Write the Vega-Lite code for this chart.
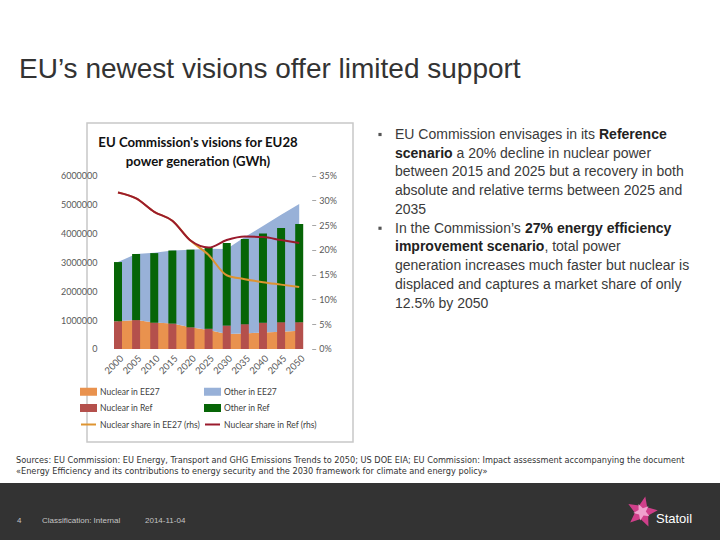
{
  "$schema": "https://vega.github.io/schema/vega-lite/v6.json",
  "padding": 0,
  "background": "white",
  "config": {"view": {"stroke": null}, "font": "Liberation Sans"},
  "datasets": {
    "ee27": [
      {"year": 2000, "series": "Nuclear in EE27", "value": 960000}, {"year": 2000, "series": "Other in EE27", "value": 2050000},
      {"year": 2005, "series": "Nuclear in EE27", "value": 1000000}, {"year": 2005, "series": "Other in EE27", "value": 2290000},
      {"year": 2010, "series": "Nuclear in EE27", "value": 920000}, {"year": 2010, "series": "Other in EE27", "value": 2410000},
      {"year": 2015, "series": "Nuclear in EE27", "value": 880000}, {"year": 2015, "series": "Other in EE27", "value": 2530000},
      {"year": 2020, "series": "Nuclear in EE27", "value": 750000}, {"year": 2020, "series": "Other in EE27", "value": 2690000},
      {"year": 2025, "series": "Nuclear in EE27", "value": 660000}, {"year": 2025, "series": "Other in EE27", "value": 2810000},
      {"year": 2030, "series": "Nuclear in EE27", "value": 520000}, {"year": 2030, "series": "Other in EE27", "value": 2940000},
      {"year": 2035, "series": "Nuclear in EE27", "value": 540000}, {"year": 2035, "series": "Other in EE27", "value": 3340000},
      {"year": 2040, "series": "Nuclear in EE27", "value": 570000}, {"year": 2040, "series": "Other in EE27", "value": 3690000},
      {"year": 2045, "series": "Nuclear in EE27", "value": 600000}, {"year": 2045, "series": "Other in EE27", "value": 4050000},
      {"year": 2050, "series": "Nuclear in EE27", "value": 630000}, {"year": 2050, "series": "Other in EE27", "value": 4390000}
    ],
    "ref": [
      {"year": 2000, "series": "Nuclear in Ref", "value": 960000}, {"year": 2000, "series": "Other in Ref", "value": 2050000},
      {"year": 2005, "series": "Nuclear in Ref", "value": 1000000}, {"year": 2005, "series": "Other in Ref", "value": 2290000},
      {"year": 2010, "series": "Nuclear in Ref", "value": 910000}, {"year": 2010, "series": "Other in Ref", "value": 2410000},
      {"year": 2015, "series": "Nuclear in Ref", "value": 880000}, {"year": 2015, "series": "Other in Ref", "value": 2530000},
      {"year": 2020, "series": "Nuclear in Ref", "value": 750000}, {"year": 2020, "series": "Other in Ref", "value": 2690000},
      {"year": 2025, "series": "Nuclear in Ref", "value": 700000}, {"year": 2025, "series": "Other in Ref", "value": 2830000},
      {"year": 2030, "series": "Nuclear in Ref", "value": 810000}, {"year": 2030, "series": "Other in Ref", "value": 2860000},
      {"year": 2035, "series": "Nuclear in Ref", "value": 860000}, {"year": 2035, "series": "Other in Ref", "value": 2950000},
      {"year": 2040, "series": "Nuclear in Ref", "value": 910000}, {"year": 2040, "series": "Other in Ref", "value": 3090000},
      {"year": 2045, "series": "Nuclear in Ref", "value": 930000}, {"year": 2045, "series": "Other in Ref", "value": 3260000},
      {"year": 2050, "series": "Nuclear in Ref", "value": 930000}, {"year": 2050, "series": "Other in Ref", "value": 3400000}
    ],
    "share": [
      {"year": 2000, "series": "Nuclear share in EE27 (rhs)", "share": 0.316}, {"year": 2005, "series": "Nuclear share in EE27 (rhs)", "share": 0.304},
      {"year": 2010, "series": "Nuclear share in EE27 (rhs)", "share": 0.277}, {"year": 2015, "series": "Nuclear share in EE27 (rhs)", "share": 0.259},
      {"year": 2020, "series": "Nuclear share in EE27 (rhs)", "share": 0.219}, {"year": 2025, "series": "Nuclear share in EE27 (rhs)", "share": 0.19},
      {"year": 2030, "series": "Nuclear share in EE27 (rhs)", "share": 0.149}, {"year": 2035, "series": "Nuclear share in EE27 (rhs)", "share": 0.141},
      {"year": 2040, "series": "Nuclear share in EE27 (rhs)", "share": 0.135}, {"year": 2045, "series": "Nuclear share in EE27 (rhs)", "share": 0.13},
      {"year": 2050, "series": "Nuclear share in EE27 (rhs)", "share": 0.125},
      {"year": 2000, "series": "Nuclear share in Ref (rhs)", "share": 0.316}, {"year": 2005, "series": "Nuclear share in Ref (rhs)", "share": 0.304},
      {"year": 2010, "series": "Nuclear share in Ref (rhs)", "share": 0.277}, {"year": 2015, "series": "Nuclear share in Ref (rhs)", "share": 0.259},
      {"year": 2020, "series": "Nuclear share in Ref (rhs)", "share": 0.219}, {"year": 2025, "series": "Nuclear share in Ref (rhs)", "share": 0.205},
      {"year": 2030, "series": "Nuclear share in Ref (rhs)", "share": 0.22}, {"year": 2035, "series": "Nuclear share in Ref (rhs)", "share": 0.227},
      {"year": 2040, "series": "Nuclear share in Ref (rhs)", "share": 0.226}, {"year": 2045, "series": "Nuclear share in Ref (rhs)", "share": 0.22},
      {"year": 2050, "series": "Nuclear share in Ref (rhs)", "share": 0.214}
    ],
    "bullets": [
      {"line": 1, "seg": "n0", "text": "EU Commission envisages in its"},
      {"line": 1, "seg": "bRef", "text": "Reference"},
      {"line": 2, "seg": "b0", "text": "scenario"},
      {"line": 2, "seg": "nSc", "text": "a 20% decline in nuclear power"},
      {"line": 3, "seg": "n0", "text": "between 2015 and 2025 but a recovery in both"},
      {"line": 4, "seg": "n0", "text": "absolute and relative terms between 2025 and"},
      {"line": 5, "seg": "n0", "text": "2035"},
      {"line": 6, "seg": "n0", "text": "In the Commission’s"},
      {"line": 6, "seg": "b27", "text": "27% energy efficiency"},
      {"line": 7, "seg": "b0", "text": "improvement scenario"},
      {"line": 7, "seg": "nImp", "text": ", total power"},
      {"line": 8, "seg": "n0", "text": "generation increases much faster but nuclear is"},
      {"line": 9, "seg": "n0", "text": "displaced and captures a market share of only"},
      {"line": 10, "seg": "n0", "text": "12.5% by 2050"}
    ],
    "sources": [
      {"line": 1, "text": "Sources: EU Commission: EU Energy, Transport and GHG Emissions Trends to 2050; US DOE EIA; EU Commission: Impact assessment accompanying the document"},
      {"line": 2, "text": "«Energy Efficiency and its contributions to energy security and the 2030 framework for climate and energy policy»"}
    ]
  },
  "spacing": 0,
  "bounds": "flush",
  "columns": 3,
  "concat": [
    {
      "width": 87, "height": 123,
      "view": {"fill": "white", "stroke": null},
      "data": {"values": []},
      "mark": "point",
      "title": {"text": "EU’s newest visions offer limited support", "anchor": "start", "frame": "group", "offset": -106, "dx": 19, "baseline": "alphabetic", "font": "Liberation Sans", "fontSize": 28, "fontWeight": "normal", "color": "#333333"}
    },
    {"width": 266, "height": 123, "data": {"values": []}, "mark": "point"},
    {"width": 367, "height": 123, "data": {"values": []}, "mark": "point"},
    {"width": 87, "height": 319, "data": {"values": []}, "mark": "point"},
    {
      "width": 266, "height": 319,
      "view": {"stroke": "#c8c8c8", "strokeWidth": 1.5, "fill": "white"},
      "title": {"text": ["EU Commission's visions for EU28", "power generation (GWh)"], "anchor": "middle", "frame": "group", "dx": -22, "offset": -46, "baseline": "top", "lineHeight": 19, "font": "Lato", "fontSize": 13.2, "fontWeight": "bold", "color": "#111111"},
      "encoding": {
        "x": {"field": "year", "type": "quantitative", "scale": {"domain": [1992.83, 2063.46], "nice": false, "zero": false},
              "axis": {"orient": "bottom", "offset": -93, "values": [2000, 2005, 2010, 2015, 2020, 2025, 2030, 2035, 2040, 2045, 2050], "format": "d", "title": null, "domain": false, "ticks": false, "tickSize": 0, "grid": false, "labelAngle": -45, "labelPadding": 4, "labelFont": "Lato", "labelFontSize": 9.5, "labelColor": "#595959", "labelFlush": false, "labelOverlap": false}},
        "color": {"field": "series", "type": "nominal",
                  "scale": {"domain": ["Nuclear in EE27", "Other in EE27", "Nuclear in Ref", "Other in Ref", "Nuclear share in EE27 (rhs)", "Nuclear share in Ref (rhs)"],
                            "range": ["#E9924E", "#98B1D8", "#B4504C", "#066506", "#DE9431", "#9A1A2C"]},
                  "legend": {"orient": "none", "legendX": 80, "legendY": 383, "direction": "horizontal", "columns": 2, "columnPadding": 0, "rowPadding": 0.5, "padding": 0, "title": null,
                             "labelFont": "Lato", "labelFontSize": 8.5, "labelColor": "#404040", "labelOffset": 3, "symbolSize": 225, "symbolStrokeWidth": 2, "labelLimit": 200,
                             "encode": {"symbols": {"update": {
                               "shape": {"signal": "indexof(datum.value,'share')>=0 ? 'stroke' : 'M-1,-0.4H1V0.4H-1Z'"},
                               "fill": {"signal": "indexof(datum.value,'share')>=0 ? 'transparent' : scale('color', datum.value)"},
                               "stroke": {"signal": "indexof(datum.value,'share')>=0 ? scale('color', datum.value) : 'transparent'"},
                               "strokeWidth": {"value": 2}, "opacity": {"value": 1}, "fillOpacity": {"value": 1}, "strokeOpacity": {"value": 1}}}}}}
      },
      "layer": [
        {
          "layer": [
            {
              "data": {"values": [{"v": 1000000}, {"v": 2000000}, {"v": 3000000}, {"v": 4000000}, {"v": 5000000}, {"v": 6000000}]},
              "mark": {"type": "rule", "strokeWidth": 1},
              "encoding": {
                "x": {"datum": 1997.5, "type": "quantitative"},
                "x2": {"datum": 2052.5},
                "y": {"field": "v", "type": "quantitative", "scale": {"domain": [-3219900, 7824600], "nice": false, "zero": false},
                      "axis": {"orient": "left", "offset": -18, "values": [0, 1000000, 2000000, 3000000, 4000000, 5000000, 6000000], "format": "d", "title": null, "domain": false, "ticks": false, "tickSize": 0, "grid": false, "labelPadding": 8, "labelFont": "Lato", "labelFontSize": 9, "labelColor": "#595959"}},
                "color": {"value": "#dcdcdc"}
              }
            },
            {
              "data": {"name": "ee27"},
              "mark": {"type": "area", "opacity": 1},
              "encoding": {
                "y": {"field": "value", "type": "quantitative", "stack": "zero", "scale": {"domain": [-3219900, 7824600], "nice": false, "zero": false},
                      "axis": {"orient": "left", "offset": -18, "values": [0, 1000000, 2000000, 3000000, 4000000, 5000000, 6000000], "format": "d", "title": null, "domain": false, "ticks": false, "tickSize": 0, "grid": false, "labelPadding": 8, "labelFont": "Lato", "labelFontSize": 9, "labelColor": "#595959"}},
                "order": {"field": "series", "sort": "ascending"}
              }
            },
            {
              "data": {"name": "ref"},
              "mark": {"type": "bar", "size": 8},
              "encoding": {
                "y": {"field": "value", "type": "quantitative", "stack": "zero", "scale": {"domain": [-3219900, 7824600], "nice": false, "zero": false},
                      "axis": {"orient": "left", "offset": -18, "values": [0, 1000000, 2000000, 3000000, 4000000, 5000000, 6000000], "format": "d", "title": null, "domain": false, "ticks": false, "tickSize": 0, "grid": false, "labelPadding": 8, "labelFont": "Lato", "labelFontSize": 9, "labelColor": "#595959"}},
                "order": {"field": "series", "sort": "ascending"}
              }
            },
            {
              "data": {"values": [{}]},
              "mark": {"type": "rule", "strokeWidth": 1},
              "encoding": {
                "x": {"datum": 1997.5, "type": "quantitative"},
                "x2": {"datum": 2052.5},
                "y": {"datum": 0, "type": "quantitative", "scale": {"domain": [-3219900, 7824600], "nice": false, "zero": false},
                      "axis": {"orient": "left", "offset": -18, "values": [0, 1000000, 2000000, 3000000, 4000000, 5000000, 6000000], "format": "d", "title": null, "domain": false, "ticks": false, "tickSize": 0, "grid": false, "labelPadding": 8, "labelFont": "Lato", "labelFontSize": 9, "labelColor": "#595959"}},
                "color": {"value": "#a6a6a6"}
              }
            },
            {
              "data": {"values": [{}]},
              "mark": {"type": "rule", "strokeWidth": 1},
              "encoding": {
                "x": {"datum": 2052.5, "type": "quantitative"},
                "y": {"datum": 0, "type": "quantitative", "scale": {"domain": [-3219900, 7824600], "nice": false, "zero": false},
                      "axis": {"orient": "left", "offset": -18, "values": [0, 1000000, 2000000, 3000000, 4000000, 5000000, 6000000], "format": "d", "title": null, "domain": false, "ticks": false, "tickSize": 0, "grid": false, "labelPadding": 8, "labelFont": "Lato", "labelFontSize": 9, "labelColor": "#595959"}},
                "y2": {"datum": 6000000},
                "color": {"value": "#a6a6a6"}
              }
            }
          ]
        },
        {
          "layer": [
            {
              "data": {"name": "share"},
              "mark": {"type": "line", "strokeWidth": 2, "interpolate": "monotone"},
              "encoding": {
                "y": {"field": "share", "type": "quantitative", "scale": {"domain": [-0.18783, 0.45644], "nice": false, "zero": false},
                      "axis": {"orient": "right", "offset": -41.3, "values": [0, 0.05, 0.1, 0.15, 0.2, 0.25, 0.3, 0.35], "format": ".0%", "title": null, "domain": false, "ticks": true, "tickSize": 4, "tickColor": "#a6a6a6", "grid": false, "labelPadding": 3, "labelFont": "Lato", "labelFontSize": 9, "labelColor": "#595959"}}
              }
            }
          ]
        }
      ],
      "resolve": {"scale": {"y": "independent"}, "axis": {"y": "independent"}}
    },
    {
      "width": 367, "height": 319,
      "data": {"name": "bullets"},
      "encoding": {"y": {"field": "line", "type": "quantitative", "scale": {"domain": [0.1467, 17.16], "reverse": true, "nice": false, "zero": false}, "axis": null}},
      "layer": [
        {"transform": [{"filter": "datum.seg == 'n0'"}], "mark": {"type": "text", "align": "left", "baseline": "alphabetic", "font": "Liberation Sans", "fontSize": 14, "color": "#3a3a3a"}, "encoding": {"x": {"value": 42}, "text": {"field": "text"}}},
        {"transform": [{"filter": "datum.seg == 'b0'"}], "mark": {"type": "text", "align": "left", "baseline": "alphabetic", "font": "Liberation Sans", "fontSize": 14, "fontWeight": "bold", "color": "#222222"}, "encoding": {"x": {"value": 42}, "text": {"field": "text"}}},
        {"transform": [{"filter": "datum.seg == 'bRef'"}], "mark": {"type": "text", "align": "left", "baseline": "alphabetic", "font": "Liberation Sans", "fontSize": 14, "fontWeight": "bold", "color": "#222222", "dx": 204}, "encoding": {"x": {"value": 42}, "text": {"field": "text"}}},
        {"transform": [{"filter": "datum.seg == 'b27'"}], "mark": {"type": "text", "align": "left", "baseline": "alphabetic", "font": "Liberation Sans", "fontSize": 14, "fontWeight": "bold", "color": "#222222", "dx": 130}, "encoding": {"x": {"value": 42}, "text": {"field": "text"}}},
        {"transform": [{"filter": "datum.seg == 'nSc'"}], "mark": {"type": "text", "align": "left", "baseline": "alphabetic", "font": "Liberation Sans", "fontSize": 14, "color": "#3a3a3a", "dx": 61.5}, "encoding": {"x": {"value": 42}, "text": {"field": "text"}}},
        {"transform": [{"filter": "datum.seg == 'nImp'"}], "mark": {"type": "text", "align": "left", "baseline": "alphabetic", "font": "Liberation Sans", "fontSize": 14, "color": "#3a3a3a", "dx": 149.4}, "encoding": {"x": {"value": 42}, "text": {"field": "text"}}},
        {"data": {"values": [{"line": 1}, {"line": 6}]}, "mark": {"type": "point", "shape": "square", "filled": true, "size": 10, "color": "#555555", "opacity": 1, "yOffset": -4.5}, "encoding": {"x": {"value": 27}}}
      ]
    },
    {
      "width": 87, "height": 41,
      "data": {"name": "sources"},
      "mark": {"type": "text", "align": "left", "baseline": "alphabetic", "font": "DejaVu Sans", "fontSize": 8.2, "color": "#333333"},
      "encoding": {
        "x": {"value": 16},
        "y": {"field": "line", "type": "quantitative", "scale": {"domain": [-0.909, 2.818], "reverse": true, "nice": false, "zero": false}, "axis": null},
        "text": {"field": "text"}
      }
    },
    {"width": 266, "height": 41, "data": {"values": []}, "mark": "point"},
    {"width": 367, "height": 41, "data": {"values": []}, "mark": "point"},
    {"width": 87, "height": 57, "view": {"fill": "#333333", "stroke": null}, "data": {"values": []}, "mark": "point"},
    {"width": 266, "height": 57, "view": {"fill": "#333333", "stroke": null}, "data": {"values": []}, "mark": "point"},
    {
      "width": 367, "height": 57,
      "view": {"fill": "#333333", "stroke": null},
      "layer": [
        {"data": {"values": [{"t": "4"}]}, "mark": {"type": "text", "align": "left", "baseline": "alphabetic", "font": "Liberation Sans", "fontSize": 8, "color": "#c4c4c4"}, "encoding": {"x": {"value": -336}, "y": {"value": 40}, "text": {"field": "t"}}},
        {"data": {"values": [{"t": "Classification: Internal"}]}, "mark": {"type": "text", "align": "left", "baseline": "alphabetic", "font": "Liberation Sans", "fontSize": 8, "color": "#c4c4c4"}, "encoding": {"x": {"value": -311}, "y": {"value": 40}, "text": {"field": "t"}}},
        {"data": {"values": [{"t": "2014-11-04"}]}, "mark": {"type": "text", "align": "left", "baseline": "alphabetic", "font": "Liberation Sans", "fontSize": 8, "color": "#c4c4c4"}, "encoding": {"x": {"value": -208}, "y": {"value": 40}, "text": {"field": "t"}}},
        {"data": {"values": [{"t": "logo"}]}, "mark": {"type": "point", "filled": true, "opacity": 1, "size": 1000, "angle": 12, "color": "#cf3f8a", "shape": "M0,-1L0.26,-0.36L0.95,-0.31L0.43,0.14L0.59,0.81L0,0.45L-0.59,0.81L-0.43,0.14L-0.95,-0.31L-0.26,-0.36Z"}, "encoding": {"x": {"value": 289}, "y": {"value": 29}}},
        {"data": {"values": [{"t": "logo"}]}, "mark": {"type": "point", "filled": true, "opacity": 0.85, "size": 300, "angle": 48, "color": "#f4b3d8", "shape": "M0,-1L0.26,-0.36L0.95,-0.31L0.43,0.14L0.59,0.81L0,0.45L-0.59,0.81L-0.43,0.14L-0.95,-0.31L-0.26,-0.36Z"}, "encoding": {"x": {"value": 289}, "y": {"value": 29}}},
        {"data": {"values": [{"t": "Statoil"}]}, "mark": {"type": "text", "align": "left", "baseline": "alphabetic", "font": "Liberation Sans", "fontSize": 13, "color": "#ffffff"}, "encoding": {"x": {"value": 303}, "y": {"value": 40}, "text": {"field": "t"}}}
      ]
    }
  ]
}
